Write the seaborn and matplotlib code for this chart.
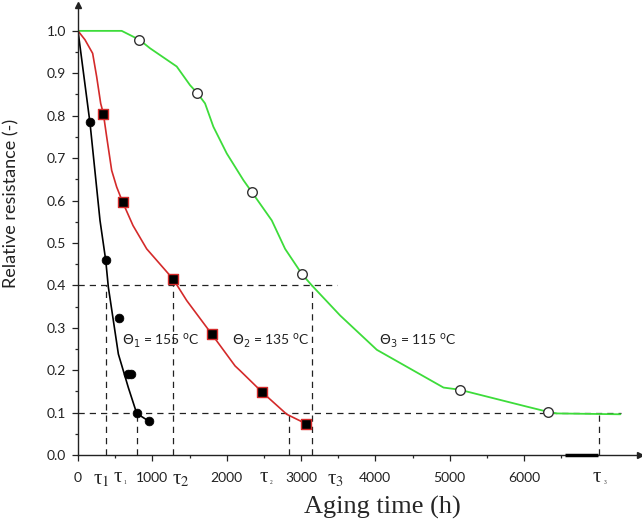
import matplotlib
matplotlib.use("Agg")
import numpy as np
import matplotlib.pyplot as plt
import seaborn as sns

# ===========================
# Data
# ===========================
# Theta1 = 155 C (black): fitted curve + measured points
t1_fit = [0, 162, 296, 373, 408, 543, 677, 790, 960]
r1_fit = [1.0, 0.782, 0.553, 0.459, 0.396, 0.238, 0.159, 0.098, 0.079]
t1_pts = [162, 373, 552, 666, 716, 790, 960]
r1_pts = [0.785, 0.459, 0.323, 0.191, 0.191, 0.098, 0.079]

# Theta2 = 135 C (red)
t2_fit = [0, 94, 197, 251, 305, 341, 386, 453, 520, 601, 740, 924, 1283,
          1463, 1799, 2113, 2180, 2472, 2808, 3064]
r2_fit = [1.0, 0.979, 0.947, 0.892, 0.829, 0.805, 0.750, 0.671, 0.632, 0.596,
          0.541, 0.486, 0.414, 0.364, 0.285, 0.21, 0.199, 0.149, 0.096, 0.074]
t2_pts = [341, 601, 1283, 1799, 2472, 3064]
r2_pts = [0.805, 0.596, 0.414, 0.285, 0.149, 0.074]

# Theta3 = 115 C (green)
t3_fit = [0, 588, 826, 969, 1328, 1507, 1606, 1709, 1821, 2001, 2225, 2342,
          2607, 2786, 3015, 3145, 3526, 4020, 4917, 5132, 6039, 6316, 6443, 7295]
r3_fit = [1.0, 1.0, 0.979, 0.959, 0.916, 0.872, 0.853, 0.829, 0.774, 0.711,
          0.648, 0.619, 0.553, 0.486, 0.426, 0.40, 0.329, 0.248, 0.159, 0.154,
          0.114, 0.102, 0.098, 0.096]
t3_pts = [826, 1606, 2342, 3015, 5132, 6316]
r3_pts = [0.979, 0.853, 0.619, 0.426, 0.154, 0.102]

# dashed guide lines
limit_levels = [0.4, 0.1]
limit_ends = [3481, 7300]
tau_times = [373, 790, 1274, 2844, 3145, 7012]
tau_levels = [0.4, 0.1, 0.4, 0.1, 0.4, 0.1]

# tick labels
x_major = [0, 1000, 2000, 3000, 4000, 5000, 6000]
x_minor = [500, 1500, 2500, 3500, 4500, 5500, 6500]
y_major = [0.0, 0.1, 0.2, 0.3, 0.4, 0.5, 0.6, 0.7, 0.8, 0.9, 1.0]
tau_label_pos = [316, 552, 1386, 2517, 3459, 7000]
tau_label_big = [True, False, True, False, True, False]
tau_label_idx = ["1", "1", "2", "2", "3", "3"]

theta_text = [r"$\Theta_1$ = 155 $^{\rm o}$C", r"$\Theta_2$ = 135 $^{\rm o}$C",
              r"$\Theta_3$ = 115 $^{\rm o}$C"]
theta_pos = [(588, 0.27), (2068, 0.27), (4051, 0.27)]

# ===========================
# Plot
# ===========================
sns.set_style("ticks")
plt.rcParams["font.family"] = ["Lato", "DejaVu Sans"]

fig = plt.figure(figsize=(6.42, 5.23), dpi=100)
ax = fig.add_axes([78 / 642, 68 / 523, 562 / 642, 450 / 523])

GREEN = "#3ddc3a"
RED = "#d42a2a"

for lv, end in zip(limit_levels, limit_ends):
    ax.plot([0, end], [lv, lv], color="#222", lw=0.9, dashes=(5, 4), zorder=1)
for tt, lv in zip(tau_times, tau_levels):
    ax.plot([tt, tt], [0, lv], color="#222", lw=0.9, dashes=(5, 4), zorder=1)

sns.lineplot(x=t3_fit, y=r3_fit, color=GREEN, lw=1.3, sort=False,
             estimator=None, ax=ax, zorder=2)
sns.lineplot(x=t2_fit, y=r2_fit, color=RED, lw=1.2, sort=False,
             estimator=None, ax=ax, zorder=2)
sns.lineplot(x=t1_fit, y=r1_fit, color="black", lw=1.2, sort=False,
             estimator=None, ax=ax, zorder=2)

sns.scatterplot(x=t3_pts, y=r3_pts, marker="o", s=48, facecolor="white",
                edgecolor="#333", linewidth=1.0, ax=ax, zorder=3)
sns.scatterplot(x=t2_pts, y=r2_pts, marker="s", s=58, color="black",
                edgecolor=RED, linewidth=1.0, ax=ax, zorder=3)
sns.scatterplot(x=t1_pts, y=r1_pts, marker="o", s=40, color="black",
                edgecolor="black", ax=ax, zorder=3)

# thick stroke on the time axis near tau3'
ax.plot([6555, 7000], [0, 0], color="black", lw=2.5, solid_capstyle="butt",
        clip_on=False, zorder=4)

for txt, (tx, ty) in zip(theta_text, theta_pos):
    ax.text(tx, ty, txt, fontsize=10, va="center", ha="left", color="#222",
            math_fontfamily="dejavusans")

ax.set_xlim(0, 7560)
ax.set_ylim(0, 1.061)
ax.set_xticks(x_major)
ax.set_xticks(x_minor, minor=True)
ax.set_yticks(y_major)
ax.set_yticklabels([f"{v:.1f}" for v in y_major])
ax.set_yticks(np.arange(0.05, 1.0, 0.1), minor=True)
ax.tick_params(axis="both", which="major", direction="out", length=4.5,
               width=0.9, labelsize=10, colors="#222")
ax.tick_params(axis="both", which="minor", direction="out", length=2.5,
               width=0.9)
ax.tick_params(axis="x", pad=8)
ax.tick_params(axis="y", pad=4)

for s in ["top", "right"]:
    ax.spines[s].set_visible(False)
for s in ["left", "bottom"]:
    ax.spines[s].set_linewidth(1.0)
    ax.spines[s].set_color("#222")

# axis arrow heads
ax.plot(1, 0, ">", color="#222", ms=5, transform=ax.transAxes, clip_on=False)
ax.plot(0, 1, "^", color="#222", ms=5, transform=ax.transAxes, clip_on=False)

# tau labels under the time axis (upright serif tau)
for pos, big, idx in zip(tau_label_pos, tau_label_big, tau_label_idx):
    if big:
        ax.annotate("τ$_{" + idx + "}$", xy=(pos, 0),
                    xycoords=("data", "axes fraction"),
                    xytext=(0, -18), textcoords="offset points", ha="center",
                    va="center", fontsize=15, family="Liberation Serif",
                    math_fontfamily="stix")
    else:
        ax.annotate("τ", xy=(pos, 0), xycoords=("data", "axes fraction"),
                    xytext=(-1, -16), textcoords="offset points", ha="center",
                    va="center", fontsize=15, family="Liberation Serif")
        ax.annotate(idx, xy=(pos, 0), xycoords=("data", "axes fraction"),
                    xytext=(4.5, -20), textcoords="offset points", ha="center",
                    va="center", fontsize=4, family="Liberation Serif")

ax.set_xlabel("Aging time (h)", family="Liberation Serif", fontsize=19)
ax.xaxis.set_label_coords(0.542, -0.09)
ax.set_ylabel("Relative resistance (-)", fontsize=13, color="#222")
ax.yaxis.set_label_coords(-0.104, 0.559)

fig.savefig("out.png", dpi=100)
